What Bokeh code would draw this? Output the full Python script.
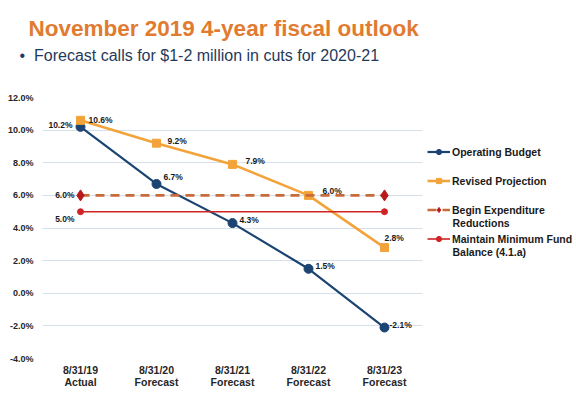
from bokeh.plotting import figure
from bokeh.models import (Range1d, FixedTicker, PrintfTickFormatter,
                          Legend, LegendItem, Title, ColumnDataSource, Label)
from bokeh.core.properties import value
from bokeh.embed import file_html
from bokeh.resources import INLINE

# ---------------- data ----------------
categories = ["8/31/19\nActual", "8/31/20\nForecast", "8/31/21\nForecast",
              "8/31/22\nForecast", "8/31/23\nForecast"]
operating_budget = [10.2, 6.7, 4.3, 1.5, -2.1]
revised_projection = [10.6, 9.2, 7.9, 6.0, 2.8]
begin_reductions = [6.0, 6.0, 6.0, 6.0, 6.0]
min_fund_balance = [5.0, 5.0, 5.0, 5.0, 5.0]
y_ticks = [-4, -2, 0, 2, 4, 6, 8, 10, 12]

title_text = "November 2019 4-year fiscal outlook"
subtitle_text = "\u2022\u00a0\u00a0Forecast calls for $1-2 million in cuts for 2020-21"

# ---------------- styles ----------------
NAVY = "#1b4472"
ORANGE = "#f2a43a"
DASH = "#c86a3a"
DIAMOND = "#b81a1a"
RED = "#d02424"
FONT = "Liberation Sans"

xs = list(range(len(categories)))
PX_PER_CAT = 76
FRAME_W = 576 - 42

p = figure(width=576, height=396,
           x_range=Range1d(-0.5, -0.5 + FRAME_W / PX_PER_CAT),
           y_range=Range1d(-4, 12), output_backend="svg", toolbar_location=None,
           min_border_left=42, min_border_right=0, min_border_bottom=38,
           min_border_top=97)
p.outline_line_color = None
p.background_fill_color = "white"
p.border_fill_color = "white"

# axes
p.yaxis.ticker = FixedTicker(ticks=y_ticks)
p.yaxis.formatter = PrintfTickFormatter(format="%.1f%%")
p.xaxis.ticker = FixedTicker(ticks=xs)
p.xaxis.major_label_overrides = {i: c for i, c in zip(xs, categories)}
for ax in (p.xaxis[0], p.yaxis[0]):
    ax.axis_line_color = None
    ax.major_tick_line_color = None
    ax.minor_tick_line_color = None
    ax.major_tick_in = 0
    ax.major_tick_out = 0
    ax.major_label_text_font = FONT
    ax.major_label_text_font_style = "bold"
    ax.major_label_text_color = "#262626"
p.yaxis.major_label_text_font_size = "9px"
p.yaxis.major_label_standoff = 9
p.xaxis.major_label_text_font_size = "10.5px"
p.xaxis.major_label_standoff = 5
p.xaxis.major_label_text_line_height = 1.0
p.xgrid.grid_line_color = None
p.ygrid.grid_line_color = "#d6e0ea"
p.ygrid.grid_line_width = 1
grid = p.ygrid[0]
if "cross_bounds" in grid.properties():
    grid.cross_bounds = (xs[0] - 0.5, xs[-1] + 0.5)
else:
    grid.grid_line_color = None
    p.segment(x0=[xs[0] - 0.5] * len(y_ticks), x1=[xs[-1] + 0.5] * len(y_ticks),
              y0=y_ticks, y1=y_ticks, line_color="#d6e0ea", line_width=1)

# series
r_ob_l = p.line(xs, operating_budget, line_color=NAVY, line_width=2.2)
r_ob_m = p.scatter(xs, operating_budget, marker="circle", size=9,
                   fill_color=NAVY, line_color=NAVY)
r_rp_l = p.line(xs, revised_projection, line_color=ORANGE, line_width=2.6)
r_rp_m = p.scatter(xs, revised_projection, marker="square", size=8,
                   fill_color=ORANGE, line_color=ORANGE)
r_br_l = p.line(xs, begin_reductions, line_color=DASH, line_width=2.6,
                line_dash="9 6")
ends = [0, len(xs) - 1]
r_br_m = p.scatter([xs[i] for i in ends], [begin_reductions[i] for i in ends],
                   marker="diamond", size=11, fill_color=DIAMOND, line_color=DIAMOND)
r_mf_l = p.line(xs, min_fund_balance, line_color=RED, line_width=1.6)
r_mf_m = p.scatter([xs[i] for i in ends], [min_fund_balance[i] for i in ends],
                   marker="circle", size=6, fill_color=RED, line_color=RED)

# data labels
def add_labels(x, ys, dx, dy, align):
    src = ColumnDataSource(dict(x=x, y=ys, t=[f"{v:.1f}%" for v in ys],
                                dx=dx, dy=dy, al=align))
    p.text(x="x", y="y", text="t", x_offset="dx", y_offset="dy", text_align="al",
           source=src, text_baseline="middle", text_font=value(FONT),
           text_font_style="bold", text_font_size="8.5px", text_color="#1a1a1a")

add_labels(xs, operating_budget,
           [-8, 7, 7, 7, 5], [-2, -7, -3, -3, -3],
           ["right", "left", "left", "left", "left"])
add_labels(xs, revised_projection,
           [8, 11, 13, 14, 0], [0, -2, -3, -4, -10],
           ["left"] * 5)
add_labels(xs[:1], begin_reductions[:1], [-6], [0], ["right"])
add_labels(xs[:1], min_fund_balance[:1], [-6], [7], ["right"])

# legend
legend = Legend(items=[
    LegendItem(label="Operating Budget", renderers=[r_ob_l, r_ob_m]),
    LegendItem(label="Revised Projection", renderers=[r_rp_l, r_rp_m]),
    LegendItem(label="Begin Expenditure", renderers=[r_br_l, r_br_m]),
    LegendItem(label="Maintain Minimum Fund", renderers=[r_mf_l, r_mf_m]),
], location=(385, 113), glyph_width=23, glyph_height=13, label_standoff=2,
    spacing=16, padding=0, margin=0, border_line_color=None,
    background_fill_alpha=0, label_text_font=FONT, label_text_font_style="bold",
    label_text_font_size="10.5px", label_text_color="#1a1a1a", label_height=13)
p.add_layout(legend)

for txt, yy in (("Reductions", 136), ("Balance (4.1.a)", 107)):
    p.add_layout(Label(x=410, y=yy, x_units="screen", y_units="screen",
                       text=txt, text_font=FONT, text_font_style="bold",
                       text_font_size="10.5px", text_color="#1a1a1a",
                       text_baseline="middle"))

# titles
p.add_layout(Title(text=subtitle_text + "\n ", text_font=FONT, text_font_size="16px",
                   text_font_style="normal", text_color="#1f3a5c", offset=-23,
                   standoff=0, text_line_height=1.97), "above")
p.add_layout(Title(text=title_text, text_font=FONT, text_font_size="22.5px",
                   text_font_style="bold", text_color="#e07b30", offset=-14,
                   standoff=10), "above")

open("out.html", "w").write(file_html(p, INLINE))
